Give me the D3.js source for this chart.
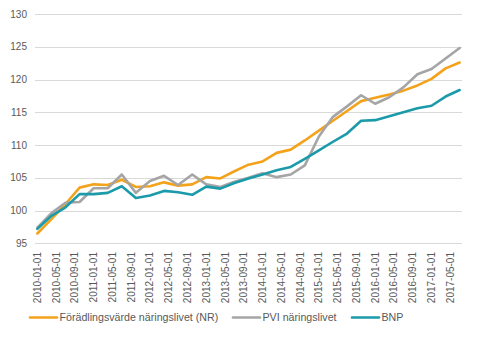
<!DOCTYPE html>
<html>
<head>
<meta charset="utf-8">
<script src="https://cdn.jsdelivr.net/npm/d3@7"></script>
<style>
  body { margin: 0; background: #ffffff; }
  text { font-family: "Liberation Sans", Arial, sans-serif; fill: #595959; }
</style>
</head>
<body>
<div id="chart"></div>
<script>
// Quarterly index series, 2010Q1 - 2017Q3
var quarters = ['2010-01-01', '2010-04-01', '2010-07-01', '2010-10-01',
  '2011-01-01', '2011-04-01', '2011-07-01', '2011-10-01',
  '2012-01-01', '2012-04-01', '2012-07-01', '2012-10-01',
  '2013-01-01', '2013-04-01', '2013-07-01', '2013-10-01',
  '2014-01-01', '2014-04-01', '2014-07-01', '2014-10-01',
  '2015-01-01', '2015-04-01', '2015-07-01', '2015-10-01',
  '2016-01-01', '2016-04-01', '2016-07-01', '2016-10-01',
  '2017-01-01', '2017-04-01', '2017-07-01'];

var nrValues = [96.5, 98.7, 101.0, 103.5, 104.0, 103.9, 104.7, 103.6,
  103.7, 104.3, 103.8, 104.0, 105.1, 104.9, 106.0, 107.0,
  107.5, 108.8, 109.3, 110.7, 112.2, 113.7, 115.2, 116.7,
  117.2, 117.7, 118.3, 119.1, 120.1, 121.7, 122.6];

var pviValues = [97.4, 99.6, 101.2, 101.3, 103.4, 103.4, 105.5, 102.7,
  104.5, 105.3, 103.9, 105.5, 104.0, 103.6, 104.4, 105.0,
  105.7, 105.1, 105.5, 106.9, 111.3, 114.3, 115.9, 117.6,
  116.3, 117.3, 118.8, 120.8, 121.6, 123.2, 124.8];

var bnpValues = [97.2, 99.2, 100.5, 102.5, 102.5, 102.7, 103.7, 101.9,
  102.3, 103.0, 102.8, 102.4, 103.65, 103.35, 104.2, 104.9,
  105.5, 106.15, 106.65, 107.9, 109.2, 110.5, 111.75, 113.7,
  113.8, 114.4, 115.0, 115.6, 116.0, 117.4, 118.4];

var seriesNames = ['Förädlingsvärde näringslivet (NR)', 'PVI näringslivet', 'BNP'];
var seriesColors = ['#F5A21B', '#A5A5A5', '#1B9AAA'];

var xTickLabels = ['2010-01-01', '2010-05-01', '2010-09-01', '2011-01-01',
  '2011-05-01', '2011-09-01', '2012-01-01', '2012-05-01', '2012-09-01',
  '2013-01-01', '2013-05-01', '2013-09-01', '2014-01-01', '2014-05-01',
  '2014-09-01', '2015-01-01', '2015-05-01', '2015-09-01', '2016-01-01',
  '2016-05-01', '2016-09-01', '2017-01-01', '2017-05-01'];

var yTicks = [95, 100, 105, 110, 115, 120, 125, 130];


// Month index since 2010-01 (date axis, one slot per month)
function monthIndex(s) {
  var p = s.split('-');
  return (+p[0] - 2010) * 12 + (+p[1] - 1);
}

var series = [nrValues, pviValues, bnpValues].map(function (vals, i) {
  return {
    name: seriesNames[i],
    color: seriesColors[i],
    points: vals.map(function (v, j) { return { m: monthIndex(quarters[j]), v: v }; })
  };
});


// Scales
var x = d3.scaleLinear().domain([-0.5, 90.5]).range([35, 462]);
var y = d3.scaleLinear().domain([95, 130]).range([243.3, 14]);


// SVG
var svg = d3.select('#chart')
  .append('svg')
  .attr('width', 477)
  .attr('height', 341);


// Gridlines
svg.selectAll('.grid')
  .data(yTicks)
  .enter()
  .append('line')
  .attr('class', 'grid')
  .attr('x1', 35)
  .attr('x2', 462)
  .attr('y1', function (d) { return Math.round(y(d)) + 0.5; })
  .attr('y2', function (d) { return Math.round(y(d)) + 0.5; })
  .style('stroke', '#d9d9d9')
  .style('stroke-width', 1);


// Y axis labels
svg.selectAll('.y-label')
  .data(yTicks)
  .enter()
  .append('text')
  .attr('class', 'y-label')
  .attr('x', 27)
  .attr('y', function (d) { return y(d); })
  .attr('dy', '0.35em')
  .attr('text-anchor', 'end')
  .style('font-size', '10px')
  .text(function (d) { return d; });


// X axis labels (rotated)
svg.selectAll('.x-label')
  .data(xTickLabels)
  .enter()
  .append('text')
  .attr('class', 'x-label')
  .attr('transform', function (d) {
    return 'translate(' + x(monthIndex(d)) + ',252) rotate(-90)';
  })
  .attr('dy', '0.35em')
  .attr('text-anchor', 'end')
  .style('font-size', '10px')
  .text(function (d) { return d; });


// Lines
var line = d3.line()
  .x(function (d) { return x(d.m); })
  .y(function (d) { return y(d.v); });

svg.selectAll('.series')
  .data(series)
  .enter()
  .append('path')
  .attr('class', 'series')
  .attr('d', function (d) { return line(d.points); })
  .style('fill', 'none')
  .style('stroke', function (d) { return d.color; })
  .style('stroke-width', 2.6)
  .style('stroke-linejoin', 'round')
  .style('stroke-linecap', 'round');


// Legend
var legendX = [30, 233, 352];
var legend = svg.selectAll('.legend')
  .data(series)
  .enter()
  .append('g')
  .attr('class', 'legend')
  .attr('transform', function (d, i) { return 'translate(' + legendX[i] + ',317.5)'; });

legend.append('line')
  .attr('x1', 0)
  .attr('x2', 27)
  .style('stroke', function (d) { return d.color; })
  .style('stroke-width', 2.6)
  .style('stroke-linecap', 'round');

legend.append('text')
  .attr('x', 29.5)
  .attr('dy', '0.35em')
  .style('font-size', '10.67px')
  .text(function (d) { return d.name; });
</script>
</body>
</html>
